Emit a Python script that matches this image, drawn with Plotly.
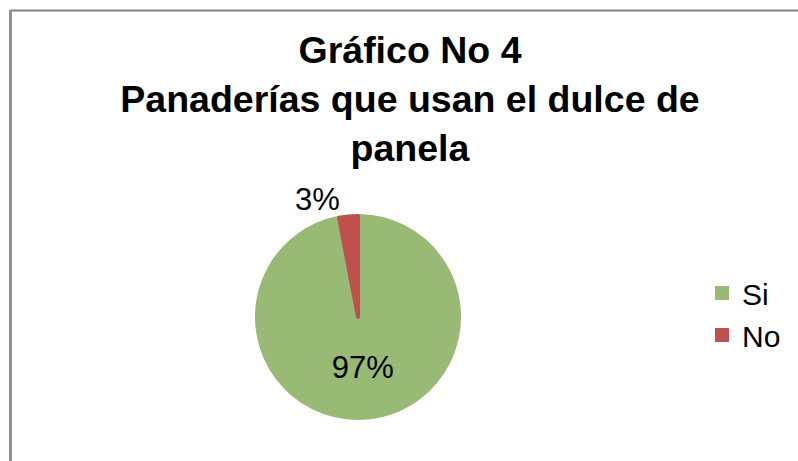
import plotly.graph_objects as go

# Data
categories = ["Si", "No"]
values = [97, 3]
colors = ["#98BA74", "#C0504D"]

title_lines = ["Gráfico No 4", "Panaderías que usan el dulce de", "panela"]

W, H = 798, 461
FONT = "Liberation Sans, Arial, sans-serif"

fig = go.Figure()
fig.add_trace(go.Pie(
    labels=categories,
    values=values,
    sort=False,
    direction="clockwise",
    rotation=0,
    marker=dict(colors=colors, line=dict(width=4, color=colors)),
    texttemplate="%{percent:.0%}",
    textposition=["inside", "outside"],
    textfont=dict(family=FONT, size=31, color="#000000"),
    insidetextfont=dict(family=FONT, size=31, color="#000000"),
    outsidetextfont=dict(family=FONT, size=31, color="#000000"),
    insidetextorientation="horizontal",
    domain=dict(x=[257 / W, 459 / W], y=[1 - 418 / H, 1 - 216 / H]),
    showlegend=True,
    hoverinfo="label+percent",
))

fig.update_layout(
    width=W,
    height=H,
    margin=dict(l=0, r=0, t=0, b=0),
    paper_bgcolor="#FFFFFF",
    plot_bgcolor="#FFFFFF",
    title=dict(
        text="<br>".join(title_lines),
        font=dict(family=FONT, size=37.5, color="#000000", weight="bold"),
        x=410 / W,
        xanchor="center",
        xref="container",
        y=1 - 63 / H,
        yanchor="top",
        yref="container",
    ),
    legend=dict(
        x=702 / W,
        xanchor="left",
        y=1 - 314 / H,
        yanchor="middle",
        font=dict(family=FONT, size=30, color="#000000"),
        bgcolor="rgba(0,0,0,0)",
        itemsizing="constant",
    ),
    shapes=[
        dict(type="line", xref="paper", yref="paper",
             x0=10 / W, x1=1.0, y0=1 - 10.5 / H, y1=1 - 10.5 / H,
             line=dict(color="#808080", width=2)),
        dict(type="line", xref="paper", yref="paper",
             x0=10.5 / W, x1=10.5 / W, y0=0, y1=1 - 10 / H,
             line=dict(color="#929292", width=3)),
    ],
)

fig.write_html("out.html")
